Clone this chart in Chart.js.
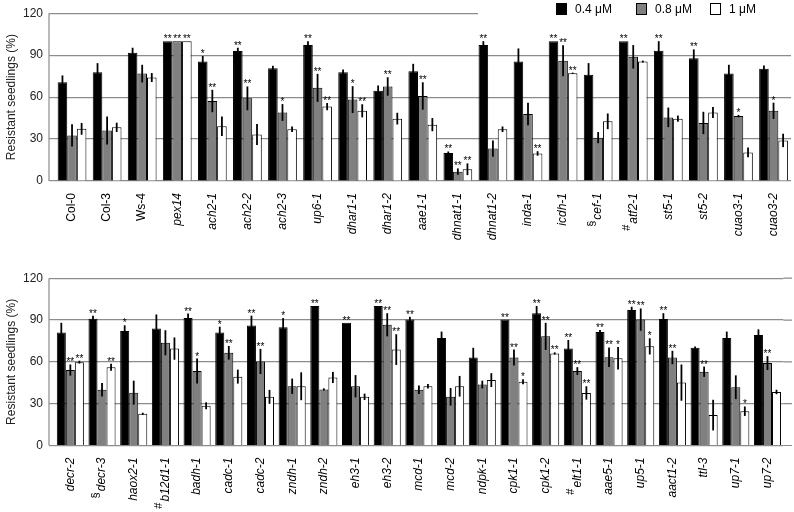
<!DOCTYPE html>
<html>
<head>
<meta charset="utf-8">
<script src="https://cdn.jsdelivr.net/npm/chart.js@4/dist/chart.umd.min.js"></script>
<style>
  html, body { margin: 0; padding: 0; background: #fff; width: 794px; height: 512px; overflow: hidden; }
  canvas { position: absolute; left: 0; }
  #chartTop { top: 0; }
  #chartBottom { top: 265px; }
</style>
</head>
<body>
<canvas id="chartTop" width="800" height="265"></canvas>
<canvas id="chartBottom" width="794" height="247"></canvas>
<script>
/* ═══════════════════════════════════════════════════════════════
   Resistant seedlings (%) — two panels, three concentrations
   ═══════════════════════════════════════════════════════════════ */

const FONT = "'Liberation Sans', Arial, sans-serif";
const GRID = '#8c8c8c';
const SERIES_LABELS = ['0.4 μM', '0.8 μM', '1 μM'];
const TICK_VALUES = [0, 30, 60, 90, 120];

// ── Top panel ──────────────────────────────────────────────────
const topCategories = ['Col-0', 'Col-3', 'Ws-4', 'pex14', 'ach2-1', 'ach2-2', 'ach2-3', 'up6-1',
  'dhar1-1', 'dhar1-2', 'aae1-1', 'dhnat1-1', 'dhnat1-2', 'inda-1', 'icdh-1', 'cef-1', 'atf2-1',
  'st5-1', 'st5-2', 'cuao3-1', 'cuao3-2'];
const topPrefix = ['', '', '', '', '', '', '', '', '', '', '', '', '', '', '', '§', '#', '', '', '', ''];

const top04    = [70.6, 77.7, 91.8, 100, 85.4, 93.0, 80.7, 97.2, 77.7, 64.5, 78.4, 20.1, 97.2, 85.4, 100, 76.0, 100, 93.2, 87.8, 76.8, 80.3];
const top04Err = [4.9, 6.6, 3.5, 0, 4.0, 2.3, 1.7, 2.8, 2.0, 3.8, 5.4, 1.0, 2.8, 9.4, 0, 8.3, 0, 6.8, 6.3, 6.3, 2.3];
const top04Sig = ['', '', '', '**', '*', '**', '', '**', '', '', '', '**', '**', '', '**', '', '**', '**', '**', '', ''];

const top08    = [32.6, 36.1, 76.8, 100, 57.2, 59.1, 49.0, 66.6, 58.2, 67.6, 60.8, 6.7, 23.2, 47.9, 86.0, 31.0, 88.8, 45.5, 41.5, 46.4, 50.2];
const top08Err = [8.0, 10.0, 6.3, 0, 8.0, 8.5, 6.0, 10.0, 9.6, 6.6, 9.8, 2.3, 5.8, 8.0, 11.0, 4.0, 8.4, 7.0, 8.0, 0.8, 5.8];
const top08Sig = ['', '', '', '**', '**', '**', '*', '**', '*', '**', '**', '**', '', '', '**', '', '', '', '', '*', '*'];

const top1     = [37.3, 38.4, 74.0, 100, 39.1, 33.3, 37.0, 53.2, 50.2, 44.6, 40.3, 8.4, 37.0, 19.7, 77.0, 42.7, 85.4, 44.6, 49.0, 20.4, 29.0];
const top1Err  = [4.2, 3.3, 3.2, 0, 7.0, 7.5, 2.0, 2.6, 4.7, 4.2, 4.7, 4.2, 2.0, 1.6, 0.5, 5.6, 0.7, 2.2, 4.0, 3.5, 4.8];
const top1Sig  = ['', '', '', '**', '', '', '', '**', '**', '', '', '**', '', '**', '**', '', '', '', '', '', ''];

// ── Bottom panel ───────────────────────────────────────────────
const bottomCategories = ['decr-2', 'decr-3', 'haox2-1', 'b12d1-1', 'badh-1', 'cadc-1', 'cadc-2',
  'zndh-1', 'zndh-2', 'eh3-1', 'eh3-2', 'mcd-1', 'mcd-2', 'ndpk-1', 'cpk1-1', 'cpk1-2', 'elt1-1',
  'aae5-1', 'up5-1', 'aact1-2', 'ttl-3', 'up7-1', 'up7-2'];
const bottomPrefix = ['', '§', '', '#', '', '', '', '', '', '', '', '', '', '', '', '', '#', '', '', '', '', '', ''];

const bottom04    = [81.0, 91.0, 82.2, 84.0, 91.4, 81.0, 86.1, 84.9, 100, 88.0, 100, 90.3, 77.1, 63.1, 90.3, 94.9, 69.5, 81.5, 97.2, 90.7, 70.2, 77.1, 79.2];
const bottom04Err = [7.0, 2.0, 4.0, 10.0, 3.2, 4.2, 7.0, 6.5, 0, 0, 0, 2.0, 4.6, 7.0, 0, 5.2, 6.2, 1.4, 2.3, 4.2, 0.8, 4.6, 4.1];
const bottom04Sig = ['', '**', '*', '', '**', '*', '**', '*', '**', '**', '**', '**', '', '', '**', '**', '**', '**', '**', '**', '', '', ''];

const bottom08    = [54.1, 40.0, 37.9, 73.7, 53.4, 66.5, 60.3, 42.5, 40.2, 42.5, 86.6, 40.0, 34.9, 43.7, 63.1, 78.3, 53.4, 63.3, 90.3, 63.1, 52.9, 41.8, 59.1];
const bottom08Err = [4.0, 4.8, 8.6, 9.0, 9.0, 4.9, 9.0, 5.5, 0.8, 8.0, 8.3, 3.0, 6.3, 2.8, 5.7, 9.7, 2.8, 7.0, 8.0, 4.8, 3.7, 8.5, 5.0];
const bottom08Sig = ['**', '', '', '', '*', '**', '**', '', '', '', '**', '', '', '', '**', '**', '**', '**', '**', '**', '**', '', '**'];

const bottom1     = [59.8, 56.2, 22.7, 69.5, 28.5, 49.4, 34.9, 42.5, 48.8, 34.9, 68.8, 42.5, 42.5, 46.9, 45.8, 66.0, 37.7, 62.6, 71.1, 45.1, 21.8, 24.6, 38.4];
const bottom1Err  = [1.0, 2.5, 0.8, 8.0, 2.5, 5.0, 5.0, 10.0, 4.0, 2.3, 11.0, 1.6, 7.4, 5.0, 1.8, 0.8, 4.8, 8.0, 5.8, 13.0, 11.0, 3.4, 1.6];
const bottom1Sig  = ['**', '**', '', '', '', '', '', '', '', '', '**', '', '', '', '*', '**', '**', '*', '*', '', '', '*', ''];

const FILLS = ['#000000', '#808080', '#ffffff'];

/**
 * Axis line, error bars, significance marks, label prefixes and legend.
 */
const panelDecor = {
  id: 'panelDecor',

  beforeDatasetsDraw(chart, args, opts) {
    const { ctx, chartArea: a, scales: { y } } = chart;
    ctx.save();
    ctx.strokeStyle = GRID;
    ctx.lineWidth = 1.2;
    ctx.beginPath();
    // value axis sits a few px left of the first category
    ctx.moveTo(a.left - opts.tick, a.top);
    ctx.lineTo(a.left - opts.tick, a.bottom);
    // gridlines run a little past the last group
    if (opts.gridEnd > a.right) {
      y.ticks.forEach(t => {
        const py = y.getPixelForValue(t.value);
        ctx.moveTo(a.right, py);
        ctx.lineTo(opts.gridEnd, py);
      });
    }
    ctx.stroke();
    ctx.restore();
  },

  afterDatasetsDraw(chart) {
    const { ctx, scales: { y } } = chart;
    ctx.save();
    chart.data.datasets.forEach((ds, di) => {
      chart.getDatasetMeta(di).data.forEach((bar, i) => {
        const v = ds.data[i];
        const e = ds.errors[i];
        const yTop = y.getPixelForValue(v + e);
        if (e > 0) {
          ctx.strokeStyle = '#000';
          ctx.lineWidth = 1.8;
          ctx.beginPath();
          ctx.moveTo(bar.x, yTop);
          ctx.lineTo(bar.x, y.getPixelForValue(v - e));
          ctx.stroke();
        }
        if (ds.marks[i]) {
          ctx.fillStyle = '#000';
          ctx.font = `10px ${FONT}`;
          ctx.textAlign = 'center';
          ctx.textBaseline = 'alphabetic';
          ctx.fillText(ds.marks[i], bar.x, yTop + 1);
        }
      });
    });
    ctx.restore();
  },

  afterDraw(chart, args, opts) {
    const { ctx, chartArea: a, scales: { x } } = chart;

    // § / # markers drawn just past the end of the rotated label
    (opts.prefixes || []).forEach((p, i) => {
      if (!p) return;
      ctx.save();
      ctx.font = `italic 12px ${FONT}`;
      const w = ctx.measureText(chart.data.labels[i]).width;
      ctx.translate(x.getPixelForTick(i) - 6, a.bottom + 12 + w + 1);
      ctx.rotate(-Math.PI / 2);
      ctx.font = `11px ${FONT}`;
      ctx.fillStyle = '#000';
      ctx.textAlign = 'right';
      ctx.textBaseline = 'middle';
      ctx.fillText(p, 0, 0);
      ctx.restore();
    });

    if (!opts.legend) return;
    ctx.save();
    ctx.fillStyle = '#fff';
    ctx.fillRect(478, 0, chart.width - 478, 16);
    const legendX = [556, 636, 710];
    chart.data.datasets.forEach((ds, di) => {
      ctx.fillStyle = ds.backgroundColor;
      ctx.fillRect(legendX[di], 3, 10, 11);
      ctx.strokeStyle = '#000';
      ctx.lineWidth = 1;
      ctx.strokeRect(legendX[di] + 0.5, 3.5, 10, 11);
      ctx.fillStyle = '#000';
      ctx.font = `12px ${FONT}`;
      ctx.textAlign = 'left';
      ctx.textBaseline = 'middle';
      ctx.fillText(ds.label, legendX[di] + 19, 9.5);
    });
    ctx.restore();
  }
};

/**
 * Builds one panel.
 */
function buildPanel(canvasId, cfg) {
  const canvas = document.getElementById(canvasId);
  const datasets = cfg.series.map((s, i) => ({
    label: SERIES_LABELS[i],
    data: s.data,
    errors: s.err,
    marks: s.sig,
    backgroundColor: FILLS[i],
    borderColor: '#000',
    borderWidth: 1,
    barPercentage: 1,
    categoryPercentage: cfg.groupWidth
  }));

  return new Chart(canvas.getContext('2d'), {
    type: 'bar',
    data: { labels: cfg.labels, datasets },
    plugins: [panelDecor],
    options: {
      responsive: false,
      animation: false,
      events: [],
      layout: { padding: { top: cfg.padTop, right: cfg.padRight, left: 0, bottom: 0 } },
      plugins: {
        legend: { display: false },
        tooltip: { enabled: false },
        panelDecor: { tick: 5.5, gridEnd: cfg.gridEnd, prefixes: cfg.prefixes, legend: cfg.legend }
      },
      scales: {
        x: {
          grid: { display: false, drawTicks: false },
          border: { display: false },
          ticks: {
            autoSkip: false,
            minRotation: 90,
            maxRotation: 90,
            padding: 12,
            color: '#000',
            font: (c) => ({ family: FONT, size: 12, style: c.index < cfg.plainCount ? 'normal' : 'italic' })
          },
          afterFit: (s) => { s.height = cfg.xHeight; }
        },
        y: {
          min: 0,
          max: 120,
          afterBuildTicks: (s) => { s.ticks = TICK_VALUES.map(v => ({ value: v })); },
          grid: { color: GRID, lineWidth: 1.2, tickLength: 5.5 },
          border: { display: false },
          ticks: { color: '#222', padding: 6, font: { family: FONT, size: 12 } },
          title: {
            display: true,
            text: 'Resistant seedlings (%)',
            color: '#222',
            font: { family: FONT, size: 12 },
            padding: { top: 4, bottom: 0 }
          },
          afterFit: (s) => { s.width = 54.5; }
        }
      }
    }
  });
}

buildPanel('chartTop', {
  labels: topCategories,
  prefixes: topPrefix,
  plainCount: 3,
  groupWidth: 0.82,
  padTop: 11,
  padRight: 3,
  xHeight: 84,
  gridEnd: 0,
  legend: true,
  series: [
    { data: top04, err: top04Err, sig: top04Sig },
    { data: top08, err: top08Err, sig: top08Sig },
    { data: top1, err: top1Err, sig: top1Sig }
  ]
});

buildPanel('chartBottom', {
  labels: bottomCategories,
  prefixes: bottomPrefix,
  plainCount: 0,
  groupWidth: 0.855,
  padTop: 7,
  padRight: 5.6,
  xHeight: 66.5,
  gridEnd: 792,
  legend: false,
  series: [
    { data: bottom04, err: bottom04Err, sig: bottom04Sig },
    { data: bottom08, err: bottom08Err, sig: bottom08Sig },
    { data: bottom1, err: bottom1Err, sig: bottom1Sig }
  ]
});
</script>
</body>
</html>
